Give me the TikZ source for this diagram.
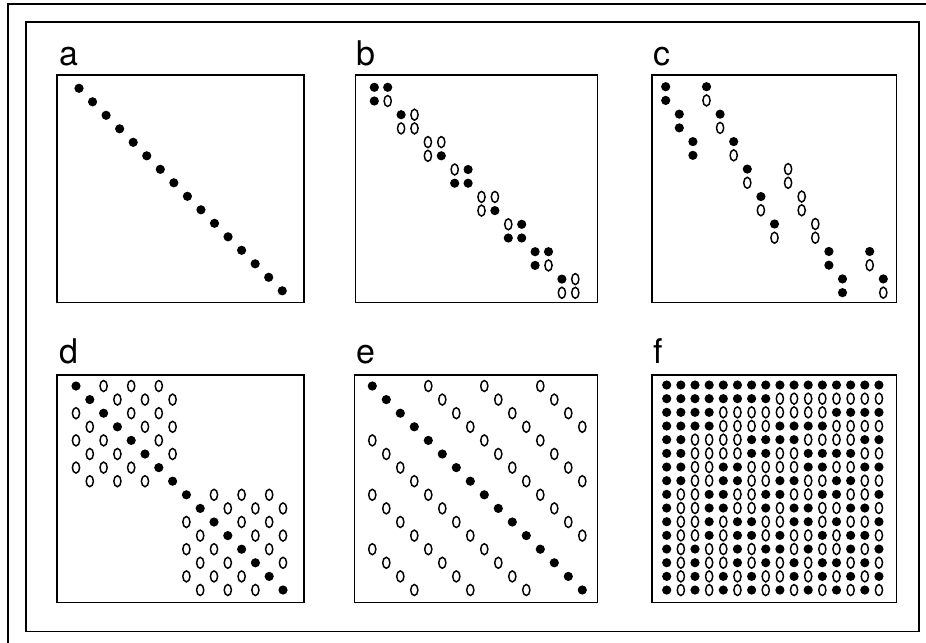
\documentclass[tikz,border=0pt]{standalone}
\usepackage{fontspec}
\setsansfont{TeX Gyre Heros}

\tikzset{
  panelbox/.style={draw=black,line width=1.4pt},
  panellabel/.style={anchor=base west,inner sep=0pt,font=\sffamily\fontsize{25.5}{25.5}\selectfont},
  fulldot/.style={fill=black},
  opendot/.style={draw=black,line width=1.1pt},
}

% one matrix entry: column, row, filled (1) or open (0)
\newcommand{\mdot}[3]{%
  \ifnum#3=1\relax
    \fill[fulldot] ({\ox+(#1)*\dx},{\oy+(#2)*\dy}) circle[radius=4.6];
  \else
    \draw[opendot] ({\ox+(#1)*\dx},{\oy+(#2)*\dy}) ellipse[x radius=3.6,y radius=5.5];
  \fi}

\begin{document}
\begin{tikzpicture}[x=0.75pt,y=-0.75pt,line join=miter]
    \useasboundingbox (0,0) rectangle (926,643);
    \draw[line width=1pt] (8,643)--(8,4)--(926,4);
    \draw[line width=1pt] (26,22) rectangle (919,631.5);

    % a
    \begin{scope}
      \def\ox{79}\def\oy{88.3}\def\dx{13.55}\def\dy{13.5}
      \draw[panelbox] (57,75) rectangle (304,302.5);
      \node[panellabel] (la) at (59,65) {a};
      \foreach \k in {0,...,15} {\mdot{\k}{\k}{1}}
    \end{scope}

    % b
    \begin{scope}
      \def\ox{374.3}\def\oy{87.3}\def\dx{13.4}\def\dy{13.7}
      \draw[panelbox] (355.5,75) rectangle (597.5,302.5);
      \node[panellabel] (lb) at (356,65) {b};
      \foreach \k/\p/\q/\s/\t in {0/1/1/1/0,1/1/0/0/0,2/0/0/0/1,3/0/1/1/1,%
                                  4/0/0/0/1,5/0/1/1/1,6/1/1/1/0,7/1/0/0/0}
        {\mdot{2*\k}{2*\k}{\p}\mdot{2*\k+1}{2*\k}{\q}%
         \mdot{2*\k}{2*\k+1}{\s}\mdot{2*\k+1}{2*\k+1}{\t}}
    \end{scope}

    % c
    \begin{scope}
      \def\ox{665.7}\def\oy{86.7}\def\dx{13.6}\def\dy{13.73}
      \draw[panelbox] (652,75) rectangle (896.5,302.5);
      \node[panellabel] (lc) at (653,65) {c};
      \foreach \row/\col/\u/\v in {0/0/1/1,0/3/1/0,2/1/1/1,2/4/1/0,4/2/1/1,4/5/1/0,%
                                  6/6/1/0,6/9/0/0,8/7/1/0,8/10/0/0,10/8/1/0,10/11/0/0,%
                                  12/12/1/1,12/15/1/0,14/13/1/1,14/16/1/0}
        {\mdot{\col}{\row}{\u}\mdot{\col}{\row+1}{\v}}
    \end{scope}

    % d
    \begin{scope}
      \def\ox{76}\def\oy{386}\def\dx{13.8}\def\dy{13.6}
      \draw[panelbox] (57,375) rectangle (304,602.5);
      \node[panellabel] (ld) at (59,363) {d};
      \foreach \b in {0,8} \foreach \i in {0,...,7} \foreach \j in {0,...,3} {
        \pgfmathtruncatemacro\cc{\b+2*\j+mod(\i,2)}
        \pgfmathtruncatemacro\rr{\b+\i}
        \pgfmathtruncatemacro\ff{\cc==\rr}
        \mdot{\cc}{\rr}{\ff}}
    \end{scope}

    % e
    \begin{scope}
      \def\ox{372.3}\def\oy{386}\def\dx{14}\def\dy{13.6}
      \draw[panelbox] (354.5,375) rectangle (597.5,602.5);
      \node[panellabel] (le) at (356,363) {e};
      \foreach \i in {0,...,15} \foreach \j in {0,...,3} {
        \pgfmathtruncatemacro\cc{mod(\i,4)+4*\j}
        \pgfmathtruncatemacro\ff{\cc==\i}
        \mdot{\cc}{\i}{\ff}}
    \end{scope}

    % f
    \begin{scope}
      \def\ox{666.7}\def\oy{385}\def\dx{14.15}\def\dy{13.67}
      \draw[panelbox] (651.7,375) rectangle (896.5,602.5);
      \node[panellabel] (lf) at (653,363) {f};
      \foreach \row/\h in {0/0,1/8,2/12,3/4,4/6,5/14,6/10,7/2,%
                           8/3,9/11,10/15,11/7,12/5,13/13,14/9,15/1}
        \foreach \n in {0,...,15} {
          \pgfmathtruncatemacro\ff{mod(mod(floor(\h/8),2)*mod(floor(\n/8),2)
            +mod(floor(\h/4),2)*mod(floor(\n/4),2)
            +mod(floor(\h/2),2)*mod(floor(\n/2),2)+mod(\h,2)*mod(\n,2),2)==0}
          \mdot{\n}{\row}{\ff}}
    \end{scope}
  \end{tikzpicture}
\end{document}
